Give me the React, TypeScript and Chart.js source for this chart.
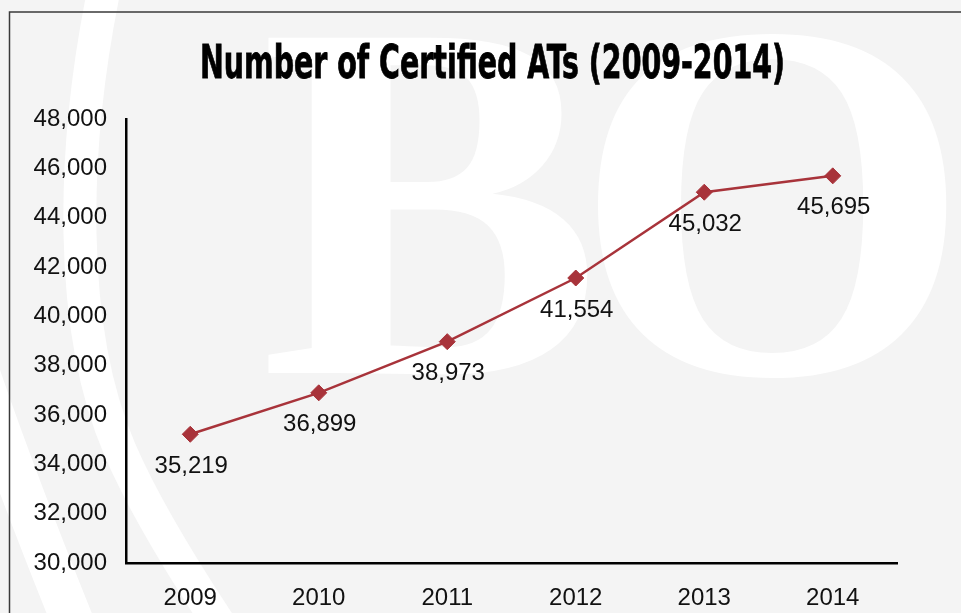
import React, { useEffect, useRef } from 'react';
import { Chart, registerables } from 'chart.js';

Chart.register(...registerables);

const years: string[] = ['2009', '2010', '2011', '2012', '2013', '2014'];
const certifiedATs: number[] = [35219, 36899, 38973, 41554, 45032, 45695];
const yMin = 30000;
const yMax = 48000;
const yStep = 2000;
const chartTitle = 'Number of Certified ATs (2009-2014)';
const watermarkLetters: string[] = ['B', 'O'];

const fmt = (v: number) => Number(v).toLocaleString('en-US');

const W = 961;
const H = 613;
const BG = '#f4f4f4';
const RED = '#a8333a';
const SANS = "'Liberation Sans', Arial, Helvetica, sans-serif";

const backdropPlugin = {
  id: 'backdrop',
  beforeDraw(chart: any) {
    const ctx = chart.ctx as CanvasRenderingContext2D;
    ctx.save();
    ctx.fillStyle = BG;
    ctx.fillRect(0, 0, W, H);

    // watermark arcs
    ctx.strokeStyle = '#ffffff';
    ctx.lineCap = 'butt';
    ctx.lineWidth = 33;
    ctx.beginPath();
    ctx.moveTo(106, -20);
    ctx.bezierCurveTo(70, 150, 68, 330, 120, 450);
    ctx.quadraticCurveTo(151, 522, 230, 640);
    ctx.stroke();

    ctx.lineWidth = 42;
    ctx.beginPath();
    ctx.moveTo(-45, 300);
    ctx.quadraticCurveTo(-5, 430, 80, 640);
    ctx.stroke();

    // watermark letters
    ctx.fillStyle = '#ffffff';
    ctx.font = "bold 512px 'Liberation Serif', 'DejaVu Serif', serif";
    ctx.textAlign = 'left';
    ctx.textBaseline = 'alphabetic';
    ctx.fillText(watermarkLetters[0], 260, 373);
    ctx.fillText(watermarkLetters[1], 573, 373);

    // frame lines
    ctx.strokeStyle = '#3a3a3a';
    ctx.lineWidth = 1.5;
    ctx.beginPath();
    ctx.moveTo(9.5, H + 2);
    ctx.lineTo(9.5, 12);
    ctx.lineTo(W + 2, 12);
    ctx.stroke();

    // title
    ctx.fillStyle = '#000000';
    ctx.strokeStyle = '#000000';
    ctx.lineWidth = 0.8;
    ctx.font = "bold 46px 'Liberation Sans Narrow', 'DejaVu Sans Condensed', 'Liberation Sans', sans-serif";
    const tw = ctx.measureText(chartTitle).width;
    ctx.translate(492.5, 78);
    ctx.scale(585 / tw, 1);
    ctx.textAlign = 'center';
    ctx.textBaseline = 'alphabetic';
    ctx.fillText(chartTitle, 0, 0);
    ctx.strokeText(chartTitle, 0, 0);
    ctx.restore();
  },
};

const valueLabelPlugin = {
  id: 'valueLabels',
  afterDatasetsDraw(chart: any) {
    const ctx = chart.ctx as CanvasRenderingContext2D;
    const meta = chart.getDatasetMeta(0);
    ctx.save();
    ctx.fillStyle = '#111111';
    ctx.font = `24px ${SANS}`;
    ctx.textAlign = 'center';
    ctx.textBaseline = 'middle';
    meta.data.forEach((pt: any, i: number) => {
      ctx.fillText(fmt(certifiedATs[i]), pt.x + 1, pt.y + 32);
    });
    ctx.restore();
  },
};

export default function App() {
  const ref = useRef<HTMLCanvasElement | null>(null);

  useEffect(() => {
    if (!ref.current) return;
    const chart = new Chart(ref.current, {
      type: 'line',
      data: {
        labels: years,
        datasets: [
          {
            label: 'Certified ATs',
            data: certifiedATs,
            borderColor: RED,
            backgroundColor: RED,
            borderWidth: 2.5,
            tension: 0,
            pointStyle: 'rectRot',
            pointRadius: 8,
            pointBorderWidth: 1,
            pointBackgroundColor: RED,
            pointBorderColor: RED,
            fill: false,
          },
        ],
      },
      options: {
        responsive: false,
        animation: false,
        devicePixelRatio: 1,
        layout: { padding: { top: 119, right: 64, bottom: 0, left: 0 } },
        plugins: {
          legend: { display: false },
          title: { display: false },
          tooltip: { enabled: false },
        },
        scales: {
          x: {
            type: 'category',
            offset: true,
            grid: { display: false, drawTicks: false },
            border: { display: true, color: '#000000', width: 2.5 },
            ticks: { color: '#111111', font: { family: SANS, size: 24 }, padding: 21, maxRotation: 0 },
            afterFit: (s: any) => {
              s.height = 50;
            },
          },
          y: {
            min: yMin,
            max: yMax,
            grid: { display: false, drawTicks: false },
            border: { display: true, color: '#000000', width: 2.5 },
            ticks: {
              stepSize: yStep,
              color: '#111111',
              font: { family: SANS, size: 24 },
              padding: 19,
              callback: (v: any) => fmt(v),
            },
            afterFit: (s: any) => {
              s.width = 126;
            },
          },
        },
      },
      plugins: [backdropPlugin, valueLabelPlugin],
    });
    return () => chart.destroy();
  }, []);

  return (
    <div style={{ position: 'fixed', left: 0, top: 0, width: W, height: H, background: BG }}>
      <canvas ref={ref} width={W} height={H} style={{ display: 'block', width: W, height: H }} />
    </div>
  );
}
